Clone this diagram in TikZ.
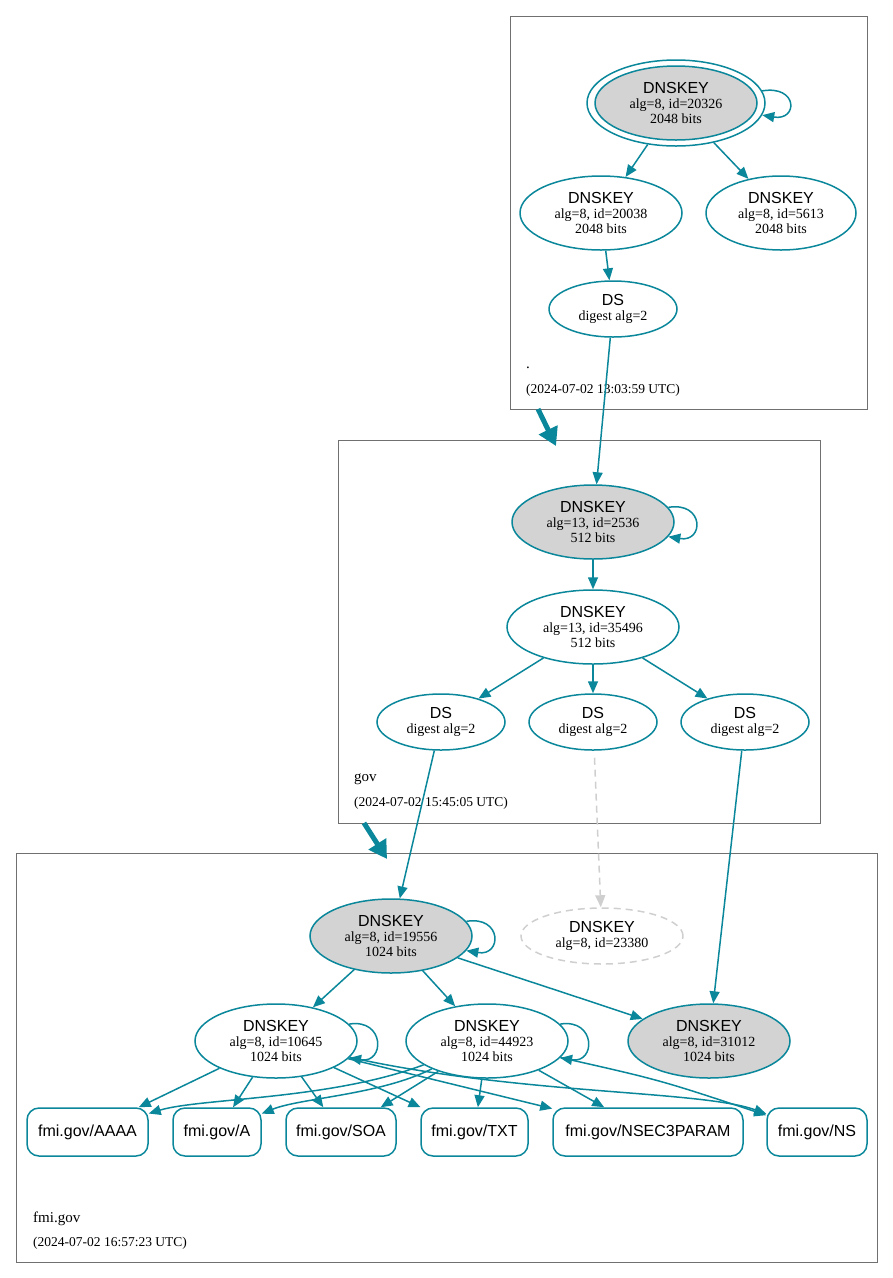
\documentclass[tikz,border=0pt]{standalone}
\usepackage{fontspec}
\setmainfont{Liberation Serif}
\setsansfont{Liberation Sans}
\usetikzlibrary{shapes.geometric, arrows.meta}
\definecolor{secure}{HTML}{0A879A}
\definecolor{keyfill}{HTML}{D3D3D3}
\definecolor{zonegray}{HTML}{707070}
\definecolor{absentgray}{HTML}{CFCFCF}
\newcommand{\keyfont}{\sffamily\fontsize{16}{17}\selectfont}
\newcommand{\infofont}{\rmfamily\fontsize{14}{15}\selectfont}
\newcommand{\zonefont}{\rmfamily\fontsize{15}{16}\selectfont}
\newcommand{\datefont}{\rmfamily\fontsize{13.5}{15}\selectfont}

\begin{document}
\begin{tikzpicture}[x=1pt, y=-1pt,
    dnskey/.style={ellipse, draw=secure, line width=1.5pt, inner sep=0pt, align=center, font=\infofont, minimum width=162pt, minimum height=74pt},
    ksk/.style={dnskey, fill=keyfill},
    dsnode/.style={dnskey, minimum width=128pt, minimum height=56pt},
    absent/.style={dnskey, draw=absentgray, dash pattern=on 7pt off 5pt, minimum height=56pt},
    rrset/.style={draw=secure, line width=1.5pt, rounded corners=12pt, minimum height=48pt, inner sep=0pt, font=\keyfont},
    sig/.style={secure, line width=1.5pt, -{Triangle[length=12pt,width=10pt]}},
    absentsig/.style={absentgray, line width=1.5pt, dash pattern=on 7pt off 5pt, -{Triangle[length=12pt,width=10pt]}},
    deleg/.style={secure, line width=5pt, -{Triangle[length=18pt,width=20pt]}},
    zonebox/.style={draw=zonegray, line width=1pt},
    zonename/.style={anchor=west, inner sep=0pt, font=\zonefont},
    zonedate/.style={anchor=west, inner sep=0pt, font=\datefont}]
    \useasboundingbox (0,0) rectangle (893,1278);

    \draw[zonebox] (510,16) rectangle (867,409);
    \draw[zonebox] (338,440) rectangle (820,823);
    \draw[zonebox] (16,853) rectangle (877,1262);

    \node (rootname) at (526,368) [zonename] {.};
    \node (rootdate) at (526,390) [zonedate] {(2024-07-02 13:03:59 UTC)};
    \node (govname) at (354,779) [zonename] {gov};
    \node (govdate) at (354,803) [zonedate] {(2024-07-02 15:45:05 UTC)};
    \node (fminame) at (33,1219) [zonename] {fmi.gov};
    \node (fmidate) at (33,1243) [zonedate] {(2024-07-02 16:57:23 UTC)};

    \node (k20326) at (676,103) [dnskey, minimum width=178pt, minimum height=86pt] {};
    \node (k20326in) at (676,103) [ksk] {{\keyfont DNSKEY}\\alg=8, id=20326\\2048 bits};
    \node (k20038) at (601,213) [dnskey] {{\keyfont DNSKEY}\\alg=8, id=20038\\2048 bits};
    \node (k5613) at (781,213) [dnskey, minimum width=150pt] {{\keyfont DNSKEY}\\alg=8, id=5613\\2048 bits};
    \node (dsroot) at (613,309) [dsnode] {{\keyfont DS}\\digest alg=2};

    \node (k2536) at (593,522) [ksk] {{\keyfont DNSKEY}\\alg=13, id=2536\\512 bits};
    \node (k35496) at (593,627) [dnskey, minimum width=172pt] {{\keyfont DNSKEY}\\alg=13, id=35496\\512 bits};
    \node (dsgova) at (441,722) [dsnode] {{\keyfont DS}\\digest alg=2};
    \node (dsgovb) at (593,722) [dsnode] {{\keyfont DS}\\digest alg=2};
    \node (dsgovc) at (745,722) [dsnode] {{\keyfont DS}\\digest alg=2};

    \node (k19556) at (391,936) [ksk] {{\keyfont DNSKEY}\\alg=8, id=19556\\1024 bits};
    \node (k23380) at (602,936) [absent] {{\keyfont DNSKEY}\\alg=8, id=23380};
    \node (k10645) at (276,1041) [dnskey] {{\keyfont DNSKEY}\\alg=8, id=10645\\1024 bits};
    \node (k44923) at (487,1041) [dnskey] {{\keyfont DNSKEY}\\alg=8, id=44923\\1024 bits};
    \node (k31012) at (709,1041) [ksk] {{\keyfont DNSKEY}\\alg=8, id=31012\\1024 bits};

    \node (aaaa) at (87.5,1132) [rrset, minimum width=121pt] {fmi.gov/AAAA};
    \node (a) at (217,1132) [rrset, minimum width=88pt] {fmi.gov/A};
    \node (soa) at (341,1132) [rrset, minimum width=110pt] {fmi.gov/SOA};
    \node (txt) at (474.5,1132) [rrset, minimum width=107pt] {fmi.gov/TXT};
    \node (nsec3param) at (648,1132) [rrset, minimum width=190pt] {fmi.gov/NSEC3PARAM};
    \node (ns) at (817,1132) [rrset, minimum width=100pt] {fmi.gov/NS};

    \coordinate (rootexit) at (538,409);
    \coordinate (govtop) at (556,446);
    \coordinate (govexit) at (364,823);
    \coordinate (fmitop) at (387,859);
    \draw[deleg] (rootexit) -- (govtop);
    \draw[deleg] (govexit) -- (fmitop);

    \draw[sig] (k20326.8) .. controls +(36,-6) and +(36,6) .. (k20326.-8);
    \draw[sig] (k20326) -- (k20038);
    \draw[sig] (k20326) -- (k5613);
    \draw[sig] (k20038) -- (dsroot);
    \draw[sig] (dsroot) -- (k2536);

    \draw[sig] (k2536.11) .. controls +(36,-6) and +(36,6) .. (k2536.-11);
    \draw[sig] (k2536) -- (k35496);
    \draw[sig] (k35496) -- (dsgova);
    \draw[sig] (k35496) -- (dsgovb);
    \draw[sig] (k35496) -- (dsgovc);
    \draw[sig] (dsgova) -- (k19556);
    \draw[absentsig, shorten <=7pt] (dsgovb) -- (k23380);
    \draw[sig] (dsgovc) -- (k31012);

    \draw[sig] (k19556.11) .. controls +(36,-6) and +(36,6) .. (k19556.-11);
    \draw[sig] (k19556) -- (k10645);
    \draw[sig] (k19556) -- (k44923);
    \draw[sig] (k19556) .. controls (565,993) .. (k31012);

    \draw[sig] (k10645.13) .. controls +(36,-6) and +(36,6) .. (k10645.-13);
    \draw[sig] (k10645) -- (aaaa);
    \draw[sig] (k10645) -- (a);
    \draw[sig] (k10645) -- (soa);
    \draw[sig] (k10645) -- (txt);
    \draw[sig] (k10645) -- (nsec3param);
    \draw[sig] (k10645) .. controls (520,1095) and (700,1090) .. (ns);

    \draw[sig] (k44923.13) .. controls +(36,-6) and +(36,6) .. (k44923.-13);
    \draw[sig] (k44923) .. controls (330,1100) and (200,1098) .. (aaaa);
    \draw[sig] (k44923) .. controls (380,1095) and (300,1098) .. (a);
    \draw[sig] (k44923) -- (soa);
    \draw[sig] (k44923) -- (txt);
    \draw[sig] (k44923) -- (nsec3param);
    \draw[sig] (k44923) .. controls (660,1080) .. (ns);
\end{tikzpicture}
\end{document}
